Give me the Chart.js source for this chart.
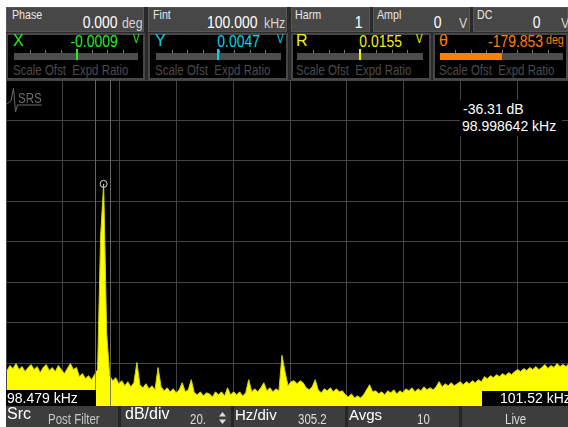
<!DOCTYPE html>
<html>
<head>
<meta charset="utf-8">
<script src="https://cdn.jsdelivr.net/npm/chart.js"></script>
<style>
body { margin:0; width:568px; height:427px; overflow:hidden; background:#fff; position:relative;
  font-family:'Liberation Sans', Arial, sans-serif; }
.t { position:absolute; white-space:nowrap; line-height:1; }
.n { transform:scaleX(0.82); transform-origin:left center; }
.n.r { transform-origin:right center; }
.box { position:absolute; box-sizing:border-box; }
.panel { background:#474747; border:1px solid #575757; }
.meter { background:#000; border:2px solid #474747; }
#plot { position:absolute; left:6px; top:80px; width:568px; height:326px; background:#000; }
#bottom { position:absolute; left:6px; top:406px; width:562px; height:21px; background:#3d3d3d; }
.sep { position:absolute; top:406px; width:3px; height:21px; background:#262626; }
</style>
</head>
<body>
<div class="box" style="left:6px;top:7px;width:562px;height:73px;background:#2a2a2a"></div>

<!-- settings row -->
<div class="box panel" style="left:6px;top:7px;width:138px;height:25px"></div>
<div class="box panel" style="left:148px;top:7px;width:139px;height:25px"></div>
<div class="box panel" style="left:291px;top:7px;width:79px;height:25px"></div>
<div class="box panel" style="left:373px;top:7px;width:97px;height:25px"></div>
<div class="box panel" style="left:473px;top:7px;width:95px;height:25px"></div>

<!-- readout meters -->
<div class="box meter" style="left:6px;top:33px;width:139px;height:47px"></div>
<div class="box meter" style="left:148px;top:33px;width:140px;height:47px"></div>
<div class="box meter" style="left:291px;top:33px;width:140px;height:47px"></div>
<div class="box meter" style="left:433px;top:33px;width:135px;height:47px"></div>

<div id="plot"><canvas id="fft" width="568" height="326"></canvas></div>

<div id="bottom"></div>
<div class="sep" style="left:118px"></div>
<div class="sep" style="left:231px"></div>
<div class="sep" style="left:345px"></div>
<div class="sep" style="left:459px"></div>
<svg style="position:absolute;left:219px;top:412px" width="7" height="12">
  <polygon points="3.5,0 7,4.5 0,4.5" fill="#ddd"/>
  <polygon points="0,7.5 7,7.5 3.5,12" fill="#ddd"/>
</svg>

<script>
// FFT trace, dB, one value per bin starting at freqStartKHz
const spectrumDb = [
  -128.5, -126, -127.5, -125, -128, -126.5, -129, -127, -125.5, -128,
  -126.5, -129.5, -127, -125.5, -128.5, -127, -129, -126, -128, -130,
  -127.5, -125, -128, -127, -131.5, -130, -132.5, -131, -133, -130.5,
  -128, -62, -36.31, -110, -131, -133.5, -132, -135, -133.5, -136,
  -134, -136.5, -134.5, -124.5, -135.5, -137, -135, -137.5, -136, -138,
  -127, -136.5, -138.5, -137, -139, -137.5, -139.5, -138, -134.5, -139,
  -138, -133, -139.5, -140.5, -139, -141, -139.5, -140, -141.5, -139,
  -140.5, -139, -141, -137, -140.5, -139, -140.5, -139, -141, -139.5,
  -133, -139, -137.5, -139, -137, -134.5, -138.5, -137, -139, -137.5,
  -138.5, -121, -129, -136, -134, -133.5, -135, -133.5, -134.5, -137,
  -138, -136.5, -133, -138, -139.5, -137.5, -138.5, -137, -139, -137.5,
  -139, -138.5, -140.5, -141.5, -140, -142, -141, -142, -140.5, -138,
  -135.5, -139, -138.5, -140, -139, -140.5, -138.5, -139.5, -138, -140,
  -138.5, -139.5, -137.5, -138.5, -137, -139, -137.5, -138.5, -136.5, -138,
  -137, -138, -136.5, -134, -136.5, -135, -136, -134.5, -136, -135,
  -134, -135.5, -134, -135, -133.5, -134.5, -133, -134, -131.5, -132.5,
  -131, -132, -130.5, -131.5, -130, -131, -129.5, -130.5, -129, -128,
  -129, -127.5, -128.5, -127, -128, -126.5, -128, -127, -125.5, -127.5,
  -126, -127, -125, -126.5, -125.5, -126.5, -125
];
const freqStartKHz = 98.479;
const binStepKHz = 0.01623881;

// display settings
const centerKHz = 100;
const hzPerDiv = 305.2;
const dbPerDiv = 20;
const refLevelDb = 15;
const xDivs = 10;
const yDivs = 8;
const floorDb = -146;
const avgs = 10;

// peak marker and its search band
const markerIndex = 32;
const markerBandKHz = [98.952, 99.033];
const edgeLabels = ['98.479 kHz', '101.52 kHz'];

// header readouts
const settings = [
  { name: 'Phase', value: '0.000', unit: 'deg', nameX: 12, valueR: 118, unitX: 122 },
  { name: 'Fint', value: '100.000', unit: 'kHz', nameX: 153, valueR: 257, unitX: 264 },
  { name: 'Harm', value: '1', unit: '', nameX: 295, valueR: 362, unitX: 0 },
  { name: 'Ampl', value: '0', unit: 'V', nameX: 377, valueR: 441, unitX: 459 },
  { name: 'DC', value: '0', unit: 'V', nameX: 477, valueR: 540, unitX: 561 }
];
const meters = [
  { name: 'X', value: '-0.0009', unit: 'V', color: '#22ee22', left: 14, right: 138, needle: 77, labelR: 118, unitX: 133 },
  { name: 'Y', value: '0.0047', unit: 'V', color: '#00d6e8', left: 156, right: 281, needle: 218, labelR: 260, unitX: 277 },
  { name: 'R', value: '0.0155', unit: 'V', color: '#f2f200', left: 297, right: 423, needle: 360, labelR: 402, unitX: 416 },
  { name: 'θ', value: '-179.853', unit: 'deg', color: '#ff7f00', left: 440, right: 563, fillTo: 502, labelR: 543, unitX: 546 }
];

// text by baseline; narrow = horizontally condensed like the instrument font
function put(text, x, base, size, color, opt) {
  opt = opt || {};
  var el = document.createElement('div');
  el.className = 't' + (opt.wide ? '' : ' n') + (opt.right ? ' r' : '');
  el.textContent = text;
  el.style.fontSize = size + 'px';
  el.style.color = color;
  el.style.top = (base - 0.85 * size) + 'px';
  if (opt.bold) el.style.fontWeight = 'bold';
  if (opt.right) el.style.right = (568 - x) + 'px';
  else el.style.left = x + 'px';
  document.body.appendChild(el);
  return el;
}

function addBox(x, y, w, h, color) {
  var el = document.createElement('div');
  el.className = 'box';
  el.style.cssText = 'left:' + x + 'px;top:' + y + 'px;width:' + w + 'px;height:' + h + 'px;background:' + color;
  document.body.appendChild(el);
}

settings.forEach(function (s) {
  put(s.name, s.nameX, 19, 13, '#e6e6e6');
  put(s.value, s.valueR, 28, 17, '#ffffff', { right: true });
  if (s.unit) put(s.unit, s.unitX, 28, 15, '#d4d4d4');
});

meters.forEach(function (m) {
  put(m.name, m.left - 1, 47, 16, m.color, { wide: true });
  put(m.value, m.labelR, 47, 17, m.color, { right: true });
  put(m.unit, m.unitX, m.unit == 'V' ? 43 : 44, m.unit == 'V' ? 12 : 13, m.color);
  addBox(m.left, 53, m.right - m.left, 7, '#4d4d4d');
  var step = (m.right - m.left) / 8;
  for (var k = 1; k < 8; k++) addBox(Math.round(m.left + k * step), 50, 1, 3, '#7a7a7a');
  if (m.fillTo) addBox(m.left, 53, m.fillTo - m.left, 7, m.color);
  else addBox(m.needle - 1, 49, 2, 11, m.color);
  put('Scale Ofst\u00a0\u00a0Expd Ratio', m.left - 1, 75, 14, '#4a4a4a');
});

// bottom soft-key bar
put('Src', 7, 420, 16, '#ffffff', { wide: true });
put('Post Filter', 48, 424, 14, '#c8c8c8');
put('dB/div', 125, 420, 16, '#ffffff', { wide: true });
put(dbPerDiv + '.', 190, 424, 14, '#dddddd');
put('Hz/div', 235, 420, 15, '#ffffff', { wide: true });
put(hzPerDiv.toFixed(1), 298, 424, 14, '#dddddd');
put('Avgs', 349, 420, 15, '#ffffff', { wide: true });
put(String(avgs), 417, 424, 14, '#dddddd');
put('Live', 505, 424, 14, '#dddddd');

const spanKHz = hzPerDiv * xDivs / 1000;
const xMin = centerKHz - spanKHz / 2;
const xMax = centerKHz + spanKHz / 2;
const yMax = refLevelDb;

var points = spectrumDb.map(function (v, i) {
  return { x: freqStartKHz + i * binStepKHz, y: v };
});

// SRS logo, marker band lines
const overlay = {
  id: 'overlay',
  beforeDatasetsDraw: function (chart) {
    var ctx = chart.ctx;
    ctx.save();
    ctx.strokeStyle = '#6a6a6a';
    ctx.lineWidth = 1;
    ctx.beginPath();
    ctx.moveTo(1, 24); ctx.lineTo(5, 21); ctx.lineTo(7.5, 8); ctx.lineTo(9.5, 32);
    ctx.lineTo(11.5, 25); ctx.lineTo(36, 25);
    ctx.stroke();
    ctx.fillStyle = '#6e6e6e';
    ctx.font = '14px "Liberation Sans", sans-serif';
    ctx.translate(12, 23);
    ctx.scale(0.82, 1);
    ctx.fillText('SRS', 0, 0);
    ctx.restore();
  },
  afterDatasetsDraw: function (chart) {
    var ctx = chart.ctx, xs = chart.scales.x, a = chart.chartArea;
    ctx.save();
    ctx.strokeStyle = 'rgba(110,110,110,0.9)';
    ctx.lineWidth = 1;
    markerBandKHz.forEach(function (f) {
      var px = Math.round(xs.getPixelForValue(f)) + 0.5;
      ctx.beginPath();
      ctx.moveTo(px, a.top);
      ctx.lineTo(px, a.bottom);
      ctx.stroke();
    });
    ctx.restore();
  }
};

new Chart(document.getElementById('fft'), {
  type: 'line',
  data: {
    datasets: [{
      data: points,
      borderColor: '#d2d200',
      borderWidth: 1,
      backgroundColor: '#ffff00',
      fill: 'start',
      pointRadius: points.map(function (p, i) { return i == markerIndex ? 3.5 : 0; }),
      pointBorderColor: '#d8d8d8',
      pointBorderWidth: 1,
      pointBackgroundColor: 'rgba(0,0,0,0)'
    }]
  },
  options: {
    responsive: false,
    animation: false,
    events: [],
    layout: { padding: 0 },
    plugins: { legend: { display: false }, tooltip: { enabled: false } },
    scales: {
      x: {
        type: 'linear', min: xMin, max: xMax,
        afterBuildTicks: function (axis) {
          var t = [];
          for (var k = 0; k <= xDivs; k++) t.push({ value: xMin + k * hzPerDiv / 1000 });
          axis.ticks = t;
        },
        ticks: { display: false },
        grid: { color: '#444444', drawTicks: false, lineWidth: 1 },
        border: { display: false }
      },
      y: {
        min: floorDb, max: yMax,
        afterBuildTicks: function (axis) {
          var t = [];
          for (var k = 0; k <= yDivs; k++) t.push({ value: yMax - k * dbPerDiv });
          axis.ticks = t;
        },
        ticks: { display: false },
        grid: { color: '#444444', drawTicks: false, lineWidth: 1 },
        border: { display: false }
      }
    }
  },
  plugins: [overlay]
});

// edge frequency labels and marker readout
addBox(6, 390, 90, 16, '#000');
put(edgeLabels[0], 7, 403, 14, '#ffffff', { wide: true });
addBox(482, 391, 86, 15, '#000');
put(edgeLabels[1], 500, 403, 14, '#ffffff', { wide: true });

addBox(460, 100, 102, 36, '#000');
var mf = freqStartKHz + markerIndex * binStepKHz;
put(spectrumDb[markerIndex].toFixed(2) + ' dB', 463, 114, 14, '#ffffff', { wide: true });
put(mf.toFixed(6) + ' kHz', 462, 131, 14, '#ffffff', { wide: true });
</script>
</body>
</html>
